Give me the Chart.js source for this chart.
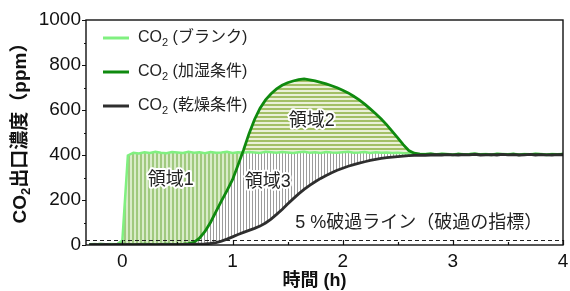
<!DOCTYPE html>
<html>
<head>
<meta charset="utf-8">
<script src="https://cdn.jsdelivr.net/npm/chart.js@4"></script>
<style>
html, body { margin: 0; padding: 0; background: #fff; }
</style>
</head>
<body>
<canvas id="chart" width="570" height="291"></canvas>
<script>
// time (h)
const times = [
    -0.3, -0.25, -0.2, -0.15, -0.1, -0.05, 0, 0.05, 0.1, 0.15,
    0.2, 0.25, 0.3, 0.35, 0.4, 0.45, 0.5, 0.55, 0.6, 0.65,
    0.7, 0.75, 0.8, 0.85, 0.9, 0.95, 1, 1.05, 1.1, 1.15,
    1.2, 1.25, 1.3, 1.35, 1.4, 1.45, 1.5, 1.55, 1.6, 1.65,
    1.7, 1.75, 1.8, 1.85, 1.9, 1.95, 2, 2.05, 2.1, 2.15,
    2.2, 2.25, 2.3, 2.35, 2.4, 2.45, 2.5, 2.55, 2.6, 2.65,
    2.7, 2.75, 2.8, 2.85, 2.9, 2.95, 3, 3.05, 3.1, 3.15,
    3.2, 3.25, 3.3, 3.35, 3.4, 3.45, 3.5, 3.55, 3.6, 3.65,
    3.7, 3.75, 3.8, 3.85, 3.9, 3.95, 4
];
// CO2 outlet (ppm)
const blank = [
    3, 4, 2, 3, 4, 3, 20, 398, 410, 407,
    412, 409, 414, 410, 408, 413, 411, 409, 414, 410,
    412, 408, 413, 410, 411, 414, 409, 412, 410, 413,
    411, 409, 414, 412, 410, 413, 411, 409, 412, 414,
    410, 412, 409, 413, 411, 410, 412, 414, 410, 411,
    413, 409, 412, 410, 411, 409, 410, 408, 407, 406,
    405, 404, 406, 403, 405, 404, 402, 405, 403, 404,
    406, 403, 404, 402, 405, 404, 403, 405, 402, 404,
    403, 405, 404, 402, 404, 403, 405
];
const humid = [
    3, 2, 4, 3, 2, 3, 4, 3, 2, 3,
    4, 3, 2, 3, 4, 3, 3, 4, 6, 12,
    30, 60, 100, 148, 196, 242, 290, 355, 422, 495,
    558, 608, 645, 672, 694, 710, 721, 729, 735, 738,
    734, 729, 723, 716, 708, 699, 688, 676, 661, 645,
    626, 605, 583, 560, 534, 505, 476, 446, 420, 408,
    404, 403, 405, 402, 404, 403, 401, 404, 402, 403,
    405, 402, 403, 401, 404, 403, 402, 404, 401, 403,
    402, 404, 403, 401, 403, 402, 404
];
const dry = [
    2, 3, 2, 3, 2, 3, 2, 3, 2, 3,
    2, 3, 2, 3, 2, 3, 2, 3, 3, 4,
    4, 5, 7, 11, 17, 26, 36, 47, 56, 65,
    74, 84, 98, 115, 136, 158, 182, 205, 227, 247,
    265, 281, 296, 309, 321, 332, 341, 350, 357, 364,
    370, 376, 381, 385, 388, 391, 393, 395, 397, 398,
    399, 399, 400, 401, 400, 402, 401, 400, 402, 401,
    403, 400, 401, 402, 400, 403, 401, 402, 400, 401,
    403, 400, 402, 401, 400, 402, 401
];
const breakLevel = 20;   // 5 % of 400 ppm
const xRange = [-0.33, 4];
const xTicks = [0, 1, 2, 3, 4];
const yTicks = [0, 200, 400, 600, 800, 1000];
const seriesNames = [' (ブランク)', ' (加湿条件)', ' (乾燥条件)'];
const regionNames = ['領域1', '領域2', '領域3'];
const breakLabel = '5 %破過ライン（破過の指標）';

const FONT = '"Liberation Sans", "Noto Sans CJK JP", sans-serif';
const lineColors = ['#80f080', '#0f8a0f', '#2e2e2e'];

const canvas = document.getElementById('chart');
const ctx = canvas.getContext('2d');

function stripes(w, h, bg, fg, sw, sh) {
    const c = document.createElement('canvas');
    c.width = w; c.height = h;
    const g = c.getContext('2d');
    g.fillStyle = bg; g.fillRect(0, 0, w, h);
    g.fillStyle = fg; g.fillRect(0, 0, sw, sh);
    return ctx.createPattern(c, 'repeat');
}
const vGreen = stripes(4, 1, '#d9ecc9', '#a0c97f', 2, 1);
const hGreen = stripes(1, 4, '#eaf0d8', '#a3bf66', 1, 2);
const vGray = stripes(3, 1, '#ffffff', '#9c9c9c', 1, 1);

const pts = arr => times.map((t, i) => ({ x: t, y: arr[i] }));
const lowerOfTwo = times.map((t, i) => ({ x: t, y: Math.min(blank[i], humid[i]) }));

// "CO" + subscript 2 + rest, returns end x
function chemText(c, x, y, size, bold, rest) {
    const w = bold ? 'bold ' : '';
    c.font = w + size + 'px ' + FONT;
    c.fillText('CO', x, y);
    x += c.measureText('CO').width;
    c.font = w + Math.round(size * 0.68) + 'px ' + FONT;
    c.fillText('2', x, y + size * 0.28);
    x += c.measureText('2').width;
    c.font = w + size + 'px ' + FONT;
    c.fillText(rest, x, y);
    return x + c.measureText(rest).width;
}
function chemWidth(c, size, bold, rest) {
    const w = bold ? 'bold ' : '';
    c.font = w + size + 'px ' + FONT;
    let total = c.measureText('CO').width + c.measureText(rest).width;
    c.font = w + Math.round(size * 0.68) + 'px ' + FONT;
    return total + c.measureText('2').width;
}

const decor = {
    id: 'decor',
    afterDatasetsDraw(chart) {
        const { ctx: c, chartArea: a, scales: { x, y } } = chart;
        c.save();

        // frame
        c.strokeStyle = '#111';
        c.lineWidth = 1.4;
        c.strokeRect(a.left, a.top, a.right - a.left, a.bottom - a.top);

        // tick marks: y outward, x inward
        c.lineWidth = 1.2;
        c.beginPath();
        for (let v = 0; v <= 1000; v += 100) {
            const py = Math.round(y.getPixelForValue(v)) + 0.5;
            const len = v % 200 === 0 ? 4 : 2;
            c.moveTo(a.left - len, py); c.lineTo(a.left, py);
        }
        for (let v = 0; v <= 4; v += 0.5) {
            const px = Math.round(x.getPixelForValue(v)) + 0.5;
            const len = v % 1 === 0 ? 5 : 3;
            c.moveTo(px, a.bottom); c.lineTo(px, a.bottom - len);
        }
        c.stroke();

        // region labels
        const labelAt = [[0.44, 290], [1.72, 550], [1.32, 282]];
        c.font = '18px ' + FONT;
        c.textAlign = 'center';
        c.textBaseline = 'middle';
        c.lineJoin = 'round';
        regionNames.forEach((name, i) => {
            const px = x.getPixelForValue(labelAt[i][0]);
            const py = y.getPixelForValue(labelAt[i][1]);
            c.strokeStyle = '#fff'; c.lineWidth = 4;
            c.strokeText(name, px, py);
            c.fillStyle = '#222';
            c.fillText(name, px, py);
        });
        c.fillText(breakLabel, x.getPixelForValue(2.69), y.getPixelForValue(98));

        // legend
        c.textAlign = 'left';
        seriesNames.forEach((name, i) => {
            const ly = a.top + 18 + i * 34;
            c.strokeStyle = lineColors[i];
            c.lineWidth = 3;
            c.beginPath();
            c.moveTo(a.left + 17, ly); c.lineTo(a.left + 43, ly);
            c.stroke();
            c.fillStyle = '#222';
            chemText(c, a.left + 52, ly, 16, false, name);
        });

        // axis titles
        c.fillStyle = '#111';
        c.font = 'bold 18px ' + FONT;
        c.textAlign = 'center';
        c.fillText('時間 (h)', (a.left + a.right) / 2 - 10, 281);

        c.translate(21, (a.top + a.bottom) / 2 - 4);
        c.rotate(-Math.PI / 2);
        c.textAlign = 'left';
        const tw = chemWidth(c, 19, true, '出口濃度（ppm）');
        chemText(c, -tw / 2, 0, 19, true, '出口濃度（ppm）');

        c.restore();
    }
};

new Chart(ctx, {
    type: 'line',
    data: {
        datasets: [
            {
                data: pts(blank),
                borderColor: lineColors[0],
                borderWidth: 2.5,
                fill: { target: 1, above: vGreen, below: hGreen },
                order: 2
            },
            {
                data: pts(humid),
                borderColor: lineColors[1],
                borderWidth: 2.8,
                fill: false,
                order: 1
            },
            {
                data: pts(dry),
                borderColor: lineColors[2],
                borderWidth: 2.8,
                fill: false,
                order: 0
            },
            {
                data: lowerOfTwo,
                borderWidth: 0,
                borderColor: 'rgba(0,0,0,0)',
                fill: { target: 2, above: vGray, below: 'rgba(0,0,0,0)' },
                order: 4
            },
            {
                data: xRange.map(v => ({ x: v, y: breakLevel })),
                borderColor: '#222',
                borderWidth: 1,
                borderDash: [4, 3],
                fill: false,
                order: 3
            }
        ]
    },
    options: {
        responsive: false,
        animation: false,
        devicePixelRatio: 1,
        layout: { padding: { left: 0, right: 7, top: 20, bottom: 0 } },
        elements: { point: { radius: 0 }, line: { tension: 0 } },
        plugins: {
            legend: { display: false },
            tooltip: { enabled: false },
            filler: { drawTime: 'beforeDatasetsDraw' }
        },
        scales: {
            x: {
                type: 'linear',
                min: xRange[0],
                max: xRange[1],
                grid: { display: false, drawTicks: false },
                border: { display: false },
                ticks: { font: { size: 19, family: FONT }, color: '#111', padding: 5, maxRotation: 0,
                         callback: v => String(v) },
                afterBuildTicks: s => { s.ticks = xTicks.map(v => ({ value: v })); },
                afterFit: s => { s.height = 46; s.paddingLeft = 0; s.paddingRight = 0; }
            },
            y: {
                min: 0,
                max: 1000,
                grid: { display: false, drawTicks: false },
                border: { display: false },
                ticks: { font: { size: 19, family: FONT }, color: '#111', padding: 5,
                         callback: v => String(v) },
                afterBuildTicks: s => { s.ticks = yTicks.map(v => ({ value: v })); },
                afterFit: s => { s.width = 86; s.paddingTop = 0; s.paddingBottom = 0; }
            }
        }
    },
    plugins: [decor]
});
</script>
</body>
</html>
